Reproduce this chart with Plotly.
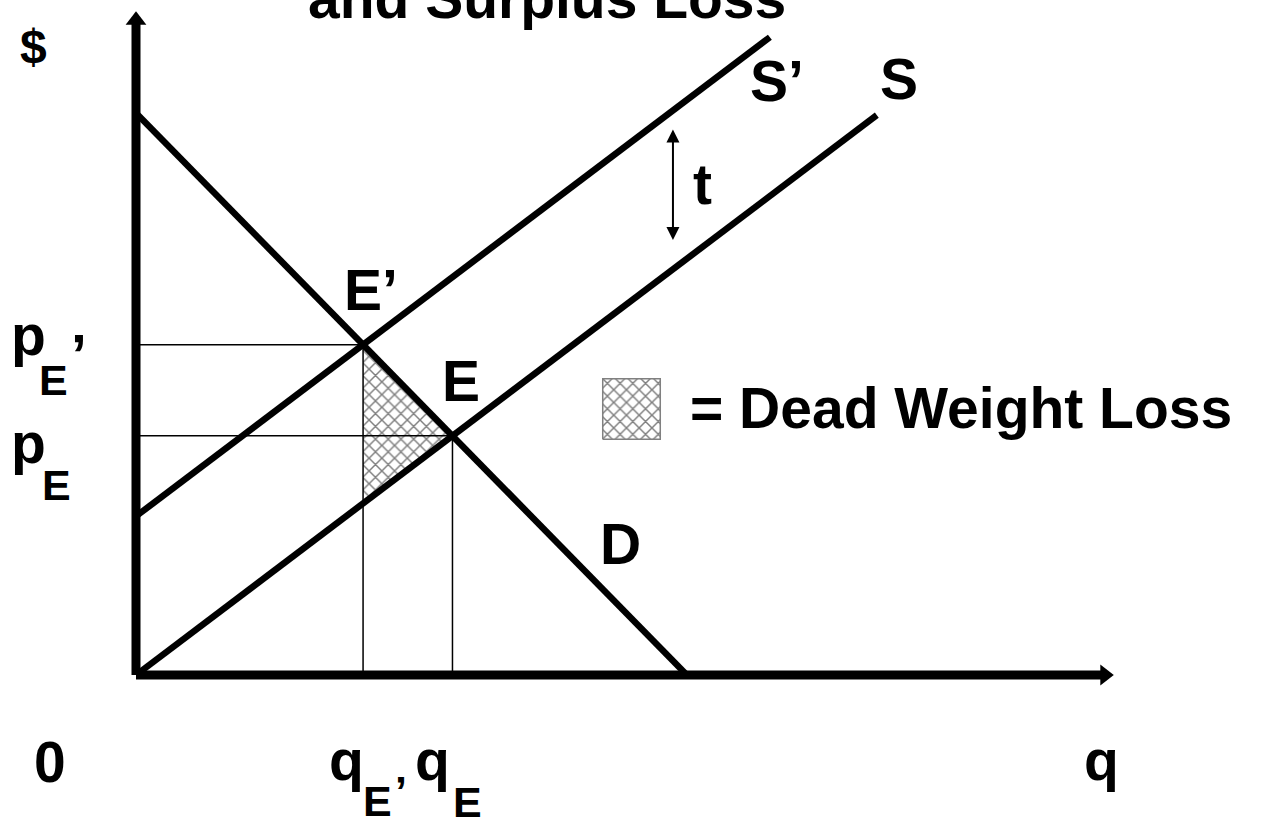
import numpy as np
import plotly.graph_objects as go

# curve end points (q, p)
demand_q = [0.0, 9.89]
demand_p = [10.09, 0.0]
supply_q = [0.0, 13.30]
supply_p = [0.0, 10.05]
supply_tax_q = [0.0, 11.38]
supply_tax_p = [2.85, 11.45]

q_axis_max = 17.58
p_axis_max = 11.94
t_arrow_q = 9.64
t_arrow_p = [7.81, 9.82]

FONT = "Liberation Sans, Arial, sans-serif"
S = 55.7  # pixels per unit
W, H = 1261, 818
OX, OY = 136, 675  # origin in pixels


def intersect(q1, p1, q2, p2):
    m1 = (p1[1] - p1[0]) / (q1[1] - q1[0])
    m2 = (p2[1] - p2[0]) / (q2[1] - q2[0])
    b1 = p1[0] - m1 * q1[0]
    b2 = p2[0] - m2 * q2[0]
    q = (b2 - b1) / (m1 - m2)
    return q, m1 * q + b1


qE, pE = intersect(demand_q, demand_p, supply_q, supply_p)
qE2, pE2 = intersect(demand_q, demand_p, supply_tax_q, supply_tax_p)
s_slope = (supply_p[1] - supply_p[0]) / (supply_q[1] - supply_q[0])
p_low = supply_p[0] + s_slope * qE2

hatch = dict(shape="x", size=9, solidity=0.3, fgcolor="black", bgcolor="white")

fig = go.Figure()

# dead weight loss triangle
fig.add_trace(go.Scatter(
    x=[qE2, qE, qE2, qE2], y=[pE2, pE, p_low, pE2], mode="lines",
    fill="toself", fillcolor="white", line=dict(width=0), fillpattern=hatch,
))

thin = dict(color="black", width=1.5)
fig.add_trace(go.Scatter(x=[0, qE2, qE2], y=[pE2, pE2, 0], mode="lines", line=thin))
fig.add_trace(go.Scatter(x=[0, qE, qE], y=[pE, pE, 0], mode="lines", line=thin))

thick = dict(color="black", width=6.5)
fig.add_trace(go.Scatter(x=demand_q, y=demand_p, mode="lines", line=thick))
fig.add_trace(go.Scatter(x=supply_q, y=supply_p, mode="lines", line=thick))
fig.add_trace(go.Scatter(x=supply_tax_q, y=supply_tax_p, mode="lines", line=thick))

# axes with arrow heads
ax_line = dict(color="black", width=9)
fig.add_trace(go.Scatter(x=[0, q_axis_max - 14 / S], y=[0, 0], mode="lines", line=ax_line))
fig.add_trace(go.Scatter(x=[0, 0], y=[0, p_axis_max - 14 / S], mode="lines", line=ax_line))
fig.add_trace(go.Scatter(x=[q_axis_max - 10.4 / S], y=[0], mode="markers", cliponaxis=False,
                         marker=dict(symbol="triangle-right", size=18, color="black")))
fig.add_trace(go.Scatter(x=[0], y=[p_axis_max - 10.4 / S], mode="markers", cliponaxis=False,
                         marker=dict(symbol="triangle-up", size=18, color="black")))

# legend swatch
fig.add_trace(go.Scatter(
    x=[0, 1, 1, 0, 0], y=[0, 0, 1, 1, 0], mode="lines", xaxis="x2", yaxis="y2",
    fill="toself", fillcolor="white", line=dict(color="#808080", width=1.5),
    fillpattern=hatch,
))

fig.add_annotation(x=t_arrow_q, y=t_arrow_p[0], ax=t_arrow_q, ay=t_arrow_p[1],
                   xref="x", yref="y", axref="x", ayref="y", text="", showarrow=True,
                   arrowhead=2, arrowside="end+start", arrowwidth=2, arrowsize=1.3,
                   arrowcolor="black")


def label(text, x, y, dx, dy, size=57, xref="x", yref="y"):
    fig.add_annotation(x=x, y=y, xref=xref, yref=yref, text=text, showarrow=False,
                       xshift=dx, yshift=dy, xanchor="center", yanchor="middle",
                       font=dict(family=FONT, size=size, color="black", weight="bold"))


label("S’", supply_tax_q[1], supply_tax_p[1], 7, -44)
label("S", supply_q[1], supply_p[1], 22, 36)
label("D", demand_q[1], demand_p[1], -66, 131)
label("E’", qE2, pE2, 8, 55)
label("E", qE, pE, 9, 55)
label("t", t_arrow_q, (t_arrow_p[0] + t_arrow_p[1]) / 2, 30, 0)
label("$", 0, p_axis_max, -103, -37, size=48)
label("0", 0, 0, -86, -87)
label("q", q_axis_max, 0, -14, -85)

label("p", 0, pE2, -108, 10)
label("E", 0, pE2, -83, -35, size=43)
label("’", 0, pE2, -57, -10)
label("p", 0, pE, -108, -7)
label("E", 0, pE, -80, -49, size=43)

label("q", qE2, 0, -17, -85)
label("E", qE2, 0, 14, -126, size=43)
label("’", qE2, 0, 38, -116, size=43)
label("q", qE, 0, -20, -85)
label("E", qE, 0, 15, -127, size=43)

label("= Dead Weight Loss", 961 / W, 1 - 408 / H, 0, 0, xref="paper", yref="paper")
label("and Surplus Loss", 547 / W, 1 - 1 / H, 0, 3, xref="paper", yref="paper")

fig.update_layout(
    width=W, height=H,
    margin=dict(l=0, r=0, t=0, b=0),
    paper_bgcolor="white", plot_bgcolor="white",
    showlegend=False,
    xaxis=dict(range=[-OX / S, (W - OX) / S], visible=False, domain=[0, 1]),
    yaxis=dict(range=[(OY - H) / S, OY / S], visible=False, domain=[0, 1]),
    xaxis2=dict(range=[-0.03, 1.03], visible=False, domain=[601 / W, 662 / W], anchor="y2"),
    yaxis2=dict(range=[-0.03, 1.03], visible=False, domain=[1 - 441 / H, 1 - 377 / H], anchor="x2"),
)

fig.write_html("out.html", config={"displayModeBar": False},
               post_script="document.body.style.margin='0';")
